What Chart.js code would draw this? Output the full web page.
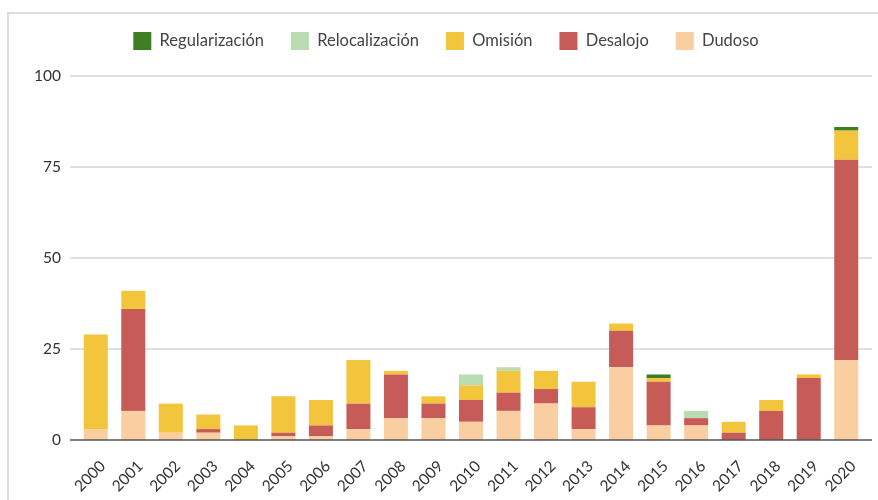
<!DOCTYPE html>
<html><head><meta charset="utf-8">
<script src="https://cdn.jsdelivr.net/npm/chart.js@4.4.1/dist/chart.umd.min.js"></script>
<style>
html,body{margin:0;padding:0;background:#fff;}
#wrap{position:relative;width:878px;height:500px;overflow:hidden;}
#frame{position:absolute;left:7px;top:12px;width:900px;height:600px;border-top:2px solid #dcdcdc;border-left:2px solid #dcdcdc;}
#c{position:absolute;left:0;top:0;}
</style></head>
<body>
<div id="wrap"><div id="frame"></div><canvas id="c" width="878" height="500"></canvas></div>
<script>
const years = ['2000','2001','2002','2003','2004','2005','2006','2007','2008','2009','2010','2011','2012','2013','2014','2015','2016','2017','2018','2019','2020'];
const dudoso          = [3, 8, 2, 2, 0, 1, 1, 3, 6, 6, 5, 8,10, 3,20, 4, 4, 0, 0, 0,22];
const desalojo        = [0,28, 0, 1, 0, 1, 3, 7,12, 4, 6, 5, 4, 6,10,12, 2, 2, 8,17,55];
const omision         = [26,5, 8, 4, 4,10, 7,12, 1, 2, 4, 6, 5, 7, 2, 1, 0, 3, 3, 1, 8];
const relocalizacion  = [0, 0, 0, 0, 0, 0, 0, 0, 0, 0, 3, 1, 0, 0, 0, 0, 2, 0, 0, 0, 0];
const regularizacion  = [0, 0, 0, 0, 0, 0, 0, 0, 0, 0, 0, 0, 0, 0, 0, 1, 0, 0, 0, 0, 1];
const yTicks = [0, 25, 50, 75, 100];

const EXT = 7;
const gridPlugin = {
  id: 'extGrid',
  beforeDatasetsDraw(chart) {
    const {ctx, chartArea: a, scales: {y}} = chart;
    ctx.save();
    ctx.lineWidth = 1.5;
    ctx.strokeStyle = '#d6d6d6';
    y.ticks.forEach(t => {
      if (t.value === 0) return;
      const py = y.getPixelForValue(t.value);
      ctx.beginPath(); ctx.moveTo(a.left - EXT, py); ctx.lineTo(a.right + EXT, py); ctx.stroke();
    });
    ctx.restore();
  },
  afterDatasetsDraw(chart) {
    const {ctx, chartArea: a, scales: {y}} = chart;
    const py = y.getPixelForValue(0);
    ctx.save();
    ctx.lineWidth = 1.5;
    ctx.strokeStyle = '#555';
    ctx.beginPath(); ctx.moveTo(a.left - EXT, py); ctx.lineTo(a.right + EXT, py); ctx.stroke();
    ctx.restore();
  }
};
const legendSpace = {
  id: 'legendSpace',
  beforeInit(chart) {
    const orig = chart.legend.fit;
    chart.legend.fit = function () { orig.call(this); this.height += 16; };
  }
};

const legendFont = {family: 'Lato, "Open Sans", sans-serif', size: 16.5};
const tickFont = {family: 'Lato, "Open Sans", sans-serif', size: 15.5};
new Chart(document.getElementById('c'), {
  type: 'bar',
  data: {
    labels: years,
    datasets: [
      {label: 'Dudoso', data: dudoso, backgroundColor: '#f9cfa1'},
      {label: 'Desalojo', data: desalojo, backgroundColor: '#c65b58'},
      {label: 'Omisión', data: omision, backgroundColor: '#f2c53c'},
      {label: 'Relocalización', data: relocalizacion, backgroundColor: '#badcb2'},
      {label: 'Regularización', data: regularizacion, backgroundColor: '#3f7f24'}
    ]
  },
  options: {
    responsive: false,
    animation: false,
    layout: {padding: {left: 27, right: 13, top: 5, bottom: 1}},
    datasets: {bar: {categoryPercentage: 0.8, barPercentage: 0.8, borderWidth: 0}},
    plugins: {
      legend: {
        reverse: true,
        labels: {boxWidth: 18, boxHeight: 18, padding: 27, color: '#444', font: legendFont}
      },
      tooltip: {enabled: false}
    },
    scales: {
      x: {
        stacked: true,
        grid: {display: false, drawTicks: false},
        border: {display: false},
        afterFit(s) { s.paddingLeft = 0; s.paddingRight = 0; s.height = 59; },
        ticks: {color: '#333', font: tickFont, minRotation: 45, maxRotation: 45, padding: 17, labelOffset: 7, autoSkip: false}
      },
      y: {
        stacked: true,
        min: 0, max: 100,
        afterBuildTicks(scale) { scale.ticks = yTicks.map(v => ({value: v})); },
        afterFit(s) { s.width = 50; },
        grid: {display: false, drawTicks: false},
        border: {display: false},
        ticks: {color: '#333', font: tickFont, padding: 16}
      }
    }
  },
  plugins: [gridPlugin, legendSpace]
});
</script>
</body></html>
